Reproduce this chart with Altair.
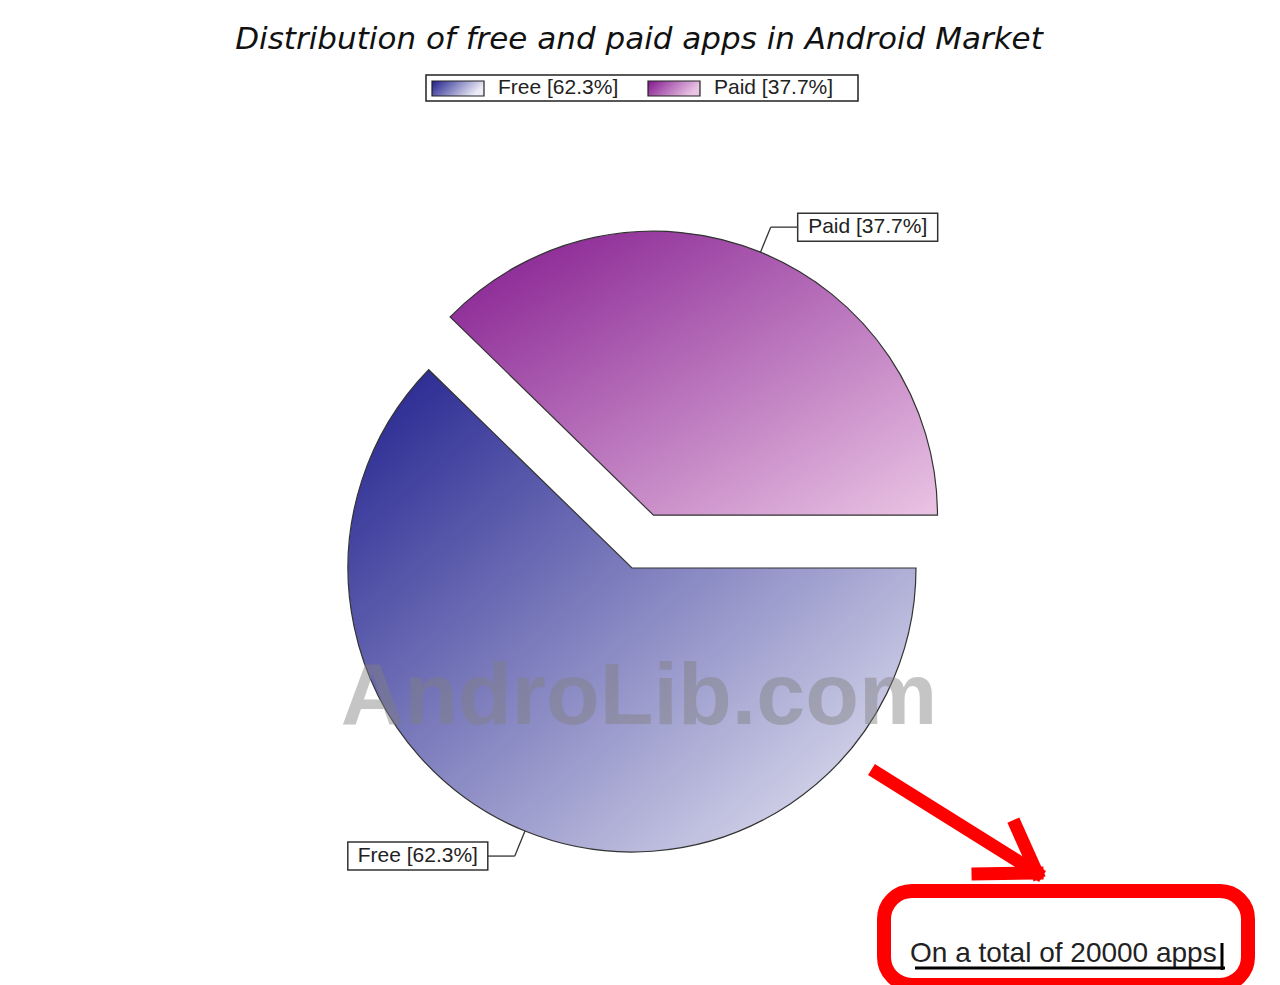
import math
import altair as alt
import pandas as pd

# ---- data ----
categories = ["Free", "Paid"]
shares = [62.3, 37.7]
exploded = [0, 1]
title_text = "Distribution of free and paid apps in Android Market"
watermark_text = "AndroLib.com"
total_apps = 20000
note_text = f"On a total of {total_apps} apps"

df = pd.DataFrame({"category": categories, "share": shares, "explode": exploded})
anno = pd.DataFrame({"k": [0]})

# ---- layout / style ----
W, H = 1264, 977
CX, CY, R = 624, 560, 284
EXP = 57
LEAD = 27
BOXW, BOXH = 140, 28
LEG_X0, LEG_STEP, SW_W, TXT_DX = 424, 216, 52, 66
PI = math.pi
FONT = "Liberation Sans"

GRAD = {"Free": ("#20208e", "#ececf6"), "Paid": ("#82198e", "#eac4e4")}


def grad(c0, c1, x2=1, y2=1):
    return alt.LinearGradient(
        gradient="linear", x1=0, y1=0, x2=x2, y2=y2,
        stops=[alt.GradientStop(offset=0, color=c0), alt.GradientStop(offset=1, color=c1)],
    )


base = alt.Chart(df).transform_window(
    end="sum(share)", frame=[None, 0]
).transform_calculate(
    start="datum.end - datum.share",
    ang="PI/2 + (datum.end - datum.share/2) / 100 * 2 * PI",
    ox=f"{CX} + {EXP} * datum.explode * sin(datum.ang)",
    oy=f"{CY} - {EXP} * datum.explode * cos(datum.ang)",
    p1x=f"datum.ox + {R} * sin(datum.ang)",
    p1y=f"datum.oy - {R} * cos(datum.ang)",
    p2x=f"datum.ox + {R + LEAD} * sin(datum.ang)",
    p2y=f"datum.oy - {R + LEAD} * cos(datum.ang)",
    side="sin(datum.ang) >= 0 ? 1 : -1",
    p3x=f"datum.p2x + datum.side * {LEAD}",
    bx="datum.side > 0 ? datum.p3x : datum.p3x - " + str(BOXW),
    bx2=f"datum.bx + {BOXW}",
    bxc=f"datum.bx + {BOXW / 2}",
    by=f"datum.p2y - {BOXH / 2}",
    by2=f"datum.p2y + {BOXH / 2}",
    label="datum.category + ' [' + format(datum.share, '.1f') + '%]'",
)

theta_scale = alt.Scale(domain=[0, 100], range=[PI / 2, PI / 2 + 2 * PI])

layers = []

# title
layers.append(alt.Chart(anno).mark_text(
    text=title_text, font="DejaVu Sans", fontStyle="italic", fontSize=31,
    color="#111111", align="center", baseline="middle"
).encode(x=alt.value(631), y=alt.value(32)))

# legend frame
layers.append(alt.Chart(anno).mark_rect(
    fill="white", stroke="#222222", strokeWidth=1.5
).encode(x=alt.value(418), x2=alt.value(850), y=alt.value(67), y2=alt.value(93)))

legend_base = alt.Chart(df).transform_window(idx="row_number()").transform_calculate(
    lx=f"{LEG_X0} + (datum.idx - 1) * {LEG_STEP}",
    lx2=f"datum.lx + {SW_W}",
    tx=f"datum.lx + {TXT_DX}",
    label="datum.category + ' [' + format(datum.share, '.1f') + '%]'",
)

for cat in categories:
    c0, c1 = GRAD[cat]
    layers.append(legend_base.transform_filter(alt.datum.category == cat).mark_rect(
        color=grad(c0, c1, 1, 0.3), stroke="#222222", strokeWidth=1.2
    ).encode(
        x=alt.X("lx:Q", scale=None, axis=None), x2="lx2:Q",
        y=alt.value(73), y2=alt.value(88),
    ))

layers.append(legend_base.mark_text(
    font=FONT, fontSize=21, color="#222222", align="left", baseline="middle"
).encode(x=alt.X("tx:Q", scale=None, axis=None), y=alt.value(80), text="label:N"))

# pie slices
for cat in categories:
    c0, c1 = GRAD[cat]
    layers.append(base.transform_filter(alt.datum.category == cat).mark_arc(
        radius=R, color=grad(c0, c1), stroke="#333333", strokeWidth=1.2
    ).encode(
        x=alt.X("ox:Q", scale=None, axis=None),
        y=alt.Y("oy:Q", scale=None, axis=None),
        theta=alt.Theta("start:Q", stack=None, scale=theta_scale),
        theta2="end:Q",
    ))

# leader lines
layers.append(base.mark_rule(color="#333333", strokeWidth=1.3).encode(
    x=alt.X("p1x:Q", scale=None, axis=None), y=alt.Y("p1y:Q", scale=None, axis=None),
    x2="p2x:Q", y2="p2y:Q"))
layers.append(base.mark_rule(color="#333333", strokeWidth=1.3).encode(
    x=alt.X("p2x:Q", scale=None, axis=None), y=alt.Y("p2y:Q", scale=None, axis=None),
    x2="p3x:Q"))

# label boxes
layers.append(base.mark_rect(fill="white", stroke="#333333", strokeWidth=1.5).encode(
    x=alt.X("bx:Q", scale=None, axis=None), x2="bx2:Q",
    y=alt.Y("by:Q", scale=None, axis=None), y2="by2:Q"))
layers.append(base.mark_text(
    font=FONT, fontSize=21, color="#222222", align="center", baseline="middle"
).encode(x=alt.X("bxc:Q", scale=None, axis=None), y=alt.Y("p2y:Q", scale=None, axis=None),
         text="label:N"))

# watermark
layers.append(alt.Chart(anno).mark_text(
    text=watermark_text, font=FONT, fontWeight="bold", fontSize=88,
    color="#808080", opacity=0.45, align="center", baseline="alphabetic"
).encode(x=alt.value(631), y=alt.value(716)))

# red arrow
arrow_segments = [
    (869, 765, 1029, 865),
    (1029, 865, 1008, 818),
    (1029, 865, 970, 866),
]
for x1, y1, x2, y2 in arrow_segments:
    layers.append(alt.Chart(anno).mark_rule(
        color="#ff0000", strokeWidth=13, strokeCap="square"
    ).encode(x=alt.value(x1), y=alt.value(y1), x2=alt.value(x2), y2=alt.value(y2)))

# red rounded box
layers.append(alt.Chart(anno).mark_rect(
    fill="white", fillOpacity=0, stroke="#ff0000", strokeWidth=14, cornerRadius=28
).encode(x=alt.value(876), x2=alt.value(1240), y=alt.value(883), y2=alt.value(977)))

# note text
layers.append(alt.Chart(anno).mark_text(
    text=note_text, font=FONT, fontSize=28, color="#222222",
    align="left", baseline="alphabetic"
).encode(x=alt.value(902), y=alt.value(954)))
layers.append(alt.Chart(anno).mark_rule(color="#000000", strokeWidth=3).encode(
    x=alt.value(907), x2=alt.value(1217), y=alt.value(960)))
layers.append(alt.Chart(anno).mark_rule(color="#000000", strokeWidth=3).encode(
    x=alt.value(1214), y=alt.value(935), y2=alt.value(962)))

chart = alt.layer(*layers).properties(
    width=W, height=H, padding=0,
    autosize=alt.AutoSizeParams(type="none"),
    background="white",
).configure_view(strokeWidth=0)

chart.save("out.html", embed_options={"renderer": "svg", "actions": False})
